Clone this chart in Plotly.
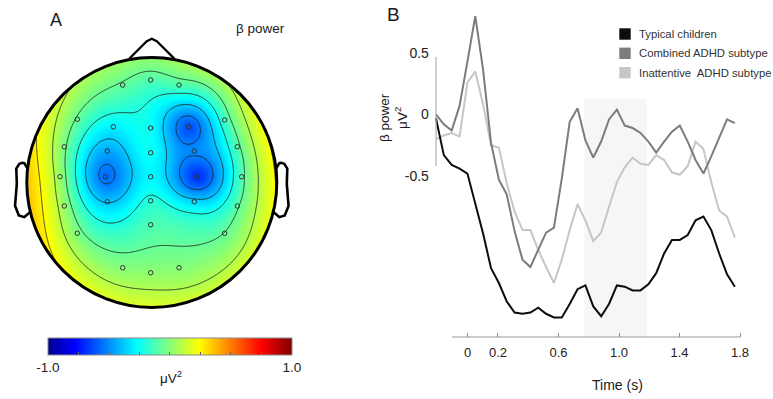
import numpy as np
import plotly.graph_objects as go

# ---------------- Panel B : beta power time courses ----------------
time_s = [-0.21, -0.158, -0.106, -0.054, -0.002, 0.05, 0.102, 0.154, 0.206, 0.258,
          0.31, 0.362, 0.414, 0.466, 0.518, 0.57, 0.622, 0.674, 0.726, 0.778,
          0.83, 0.882, 0.934, 0.986, 1.038, 1.09, 1.142, 1.194, 1.246, 1.298,
          1.35, 1.402, 1.454, 1.506, 1.558, 1.61, 1.662, 1.714, 1.766]

typical = [-0.03, -0.33, -0.41, -0.44, -0.48, -0.72, -0.97, -1.25, -1.37, -1.52,
           -1.61, -1.62, -1.61, -1.57, -1.62, -1.65, -1.65, -1.54, -1.42, -1.39,
           -1.56, -1.64, -1.54, -1.39, -1.40, -1.43, -1.43, -1.38, -1.29, -1.13,
           -1.02, -1.02, -0.98, -0.86, -0.83, -0.94, -1.13, -1.30, -1.40]

combined = [0.00, -0.08, -0.13, 0.07, 0.43, 0.80, 0.36, -0.23, -0.53, -0.65,
            -0.95, -1.18, -1.24, -1.10, -0.96, -0.92, -0.52, -0.06, 0.05, -0.21,
            -0.35, -0.22, -0.04, 0.04, -0.09, -0.11, -0.15, -0.22, -0.31, -0.22,
            -0.14, -0.09, -0.22, -0.37, -0.48, -0.34, -0.19, -0.04, -0.07]

inattentive = [-0.20, -0.17, -0.15, -0.18, 0.26, 0.35, 0.08, -0.25, -0.27, -0.56,
               -0.79, -0.94, -0.94, -1.10, -1.24, -1.37, -1.18, -0.94, -0.73, -0.86,
               -1.03, -0.96, -0.75, -0.55, -0.43, -0.35, -0.40, -0.41, -0.33, -0.37,
               -0.47, -0.49, -0.42, -0.22, -0.28, -0.55, -0.78, -0.83, -1.00]

series_names = ["Typical children", "Combined ADHD subtype", "Inattentive\u00a0 ADHD subtype"]
x_tick_vals = [0, 0.2, 0.6, 1.0, 1.4, 1.8]
x_tick_text = ["0", "0.2", "0.6", "1.0", "1.4", "1.8"]
y_tick_vals = [0.5, 0, -0.5]
y_tick_text = ["0.5", "0", "-0.5"]
window_s = [0.771, 1.183]

# ---------------- Panel A : scalp map (electrode positions / values) ----------------
elec_x = [-0.233, -0.009, 0.218,
          -0.596, -0.308, -0.009, 0.295, 0.583,
          -0.700, -0.356, -0.009, 0.340, 0.684,
          -0.734, -0.372, -0.009, 0.359, 0.719,
          -0.700, -0.356, -0.009, 0.340, 0.684,
          -0.596, -0.009, 0.583,
          -0.233, -0.009, 0.218]
elec_y = [0.780, 0.820, 0.780,
          0.506, 0.446, 0.436, 0.446, 0.500,
          0.286, 0.252, 0.238, 0.252, 0.286,
          0.046, 0.046, 0.046, 0.046, 0.046,
          -0.188, -0.154, -0.146, -0.154, -0.188,
          -0.406, -0.338, -0.406,
          -0.682, -0.722, -0.682]
elec_val = [-0.08, -0.12, -0.12,
            -0.08, -0.30, -0.26, -0.62, -0.14,
            -0.04, -0.45, -0.25, -0.50, -0.10,
            0.02, -0.56, -0.28, -0.68, -0.10,
            0.02, -0.38, -0.19, -0.33, -0.08,
            -0.02, -0.12, -0.06,
            0.00, 0.02, 0.00]

cbar_vals = [-1, -0.75, -0.5, -0.25, 0, 0.25, 0.5, 0.75, 1]
cbar_text = ["-1.0", "", "", "", "", "", "", "", "1.0"]
contour_levels = dict(start=-0.526, end=0.25, size=0.154)

FONT = "Liberation Sans, Arial, Helvetica, sans-serif"
W, H = 773, 399


def px2x(p):
    return p / W


def py2y(p):
    return 1 - p / H


# biharmonic spline (MATLAB griddata 'v4', as used by topoplot)
ex = np.array(elec_x)
ey = np.array(elec_y)
ev = np.array(elec_val)


def green(d):
    with np.errstate(divide="ignore", invalid="ignore"):
        g = d ** 2 * (np.log(d) - 1.0)
    g[d == 0] = 0.0
    return g


D = np.hypot(ex[:, None] - ex[None, :], ey[:, None] - ey[None, :])
wts = np.linalg.solve(green(D), ev)
grid = np.linspace(-1.0, 1.0, 251)
GX, GY = np.meshgrid(grid, grid)
Dg = np.hypot(GX[..., None] - ex, GY[..., None] - ey)
Z = green(Dg) @ wts
Zmask = np.where(np.hypot(GX, GY) <= 1.0, Z, np.nan)

jet = [[0.0, "#00008F"], [0.11, "#0000FF"], [0.365, "#00FFFF"],
       [0.619, "#FFFF00"], [0.873, "#FF0000"], [1.0, "#800000"]]

fig = go.Figure()

fig.add_trace(go.Heatmap(
    x=grid, y=grid, z=Zmask, colorscale=jet, zmin=-1, zmax=1, zsmooth="best",
    xaxis="x2", yaxis="y2", hoverinfo="skip",
    colorbar=dict(orientation="h", x=px2x(169.9), xanchor="center",
                  y=py2y(337.7), yanchor="top", len=244.3, lenmode="pixels",
                  thickness=17.3, thicknessmode="pixels", xpad=0, ypad=0,
                  outlinewidth=1, outlinecolor="#8a8a8a",
                  tickvals=cbar_vals, ticktext=cbar_text, ticks="inside",
                  ticklen=3, tickcolor="#666", tickwidth=1,
                  tickfont=dict(family=FONT, size=13.5, color="#222")),
))
fig.add_trace(go.Contour(
    x=grid, y=grid, z=Z, xaxis="x2", yaxis="y2", showscale=False,
    contours=dict(coloring="none", **contour_levels),
    line=dict(color="#1a1a1a", width=0.8), hoverinfo="skip",
))
fig.add_trace(go.Scatter(
    x=elec_x, y=elec_y, mode="markers", xaxis="x2", yaxis="y2",
    marker=dict(symbol="circle-open", size=4.5, color="#333", line=dict(width=1)),
    hoverinfo="skip",
))

# panel B lines
for vals, col in [(inattentive, "#c6c6c6"), (combined, "#7c7c7c"), (typical, "#0d0d0d")]:
    fig.add_trace(go.Scatter(x=time_s, y=vals, mode="lines",
                             line=dict(color=col, width=2), xaxis="x", yaxis="y"))

# ---------------- shapes ----------------
shapes = []
shapes.append(dict(type="rect", xref="x", yref="y domain", x0=window_s[0], x1=window_s[1],
                   y0=0, y1=(0.126 + 1.8089) / (0.9146 + 1.8089),
                   fillcolor="#f6f6f6", line=dict(width=0), layer="below"))
shapes.append(dict(type="line", xref="x", yref="y domain", x0=-0.105, x1=1.8, y0=0, y1=0,
                   line=dict(color="#9a9a9a", width=1.2)))
shapes.append(dict(type="line", xref="x", yref="y", x0=-0.2095, x1=-0.2095, y0=-0.419, y1=0.4675,
                   line=dict(color="#b0b0b0", width=1.2)))

th = np.linspace(0, 2 * np.pi, 241)
circ = " ".join(("M" if i == 0 else "L") + f"{np.cos(t):.4f},{np.sin(t):.4f}" for i, t in enumerate(th)) + " Z"
mask = "M-1.06,-1.06 L1.06,-1.06 L1.06,1.06 L-1.06,1.06 Z " + circ
shapes.append(dict(type="path", xref="x2", yref="y2", path=mask, fillcolor="white",
                   fillrule="evenodd", line=dict(width=0), layer="above"))
shapes.append(dict(type="circle", xref="x2", yref="y2", x0=-1, x1=1, y0=-1, y1=1,
                   line=dict(color="black", width=3), layer="above"))
nose_x = [0.18, 0.04, 0.0, -0.04, -0.18]
nose_y = [0.991, 1.13, 1.15, 1.13, 0.991]
shapes.append(dict(type="path", xref="x2", yref="y2", layer="above",
                   path="M" + " L".join(f"{a},{b}" for a, b in zip(nose_x, nose_y)),
                   line=dict(color="black", width=2.2)))
ear_x = [0.994, 1.02, 1.036, 1.06, 1.084, 1.08, 1.094, 1.064, 1.02, 0.978]
ear_y = [0.111, 0.155, 0.157, 0.149, 0.111, -0.011, -0.186, -0.263, -0.277, -0.240]
for sgn in (-1, 1):
    shapes.append(dict(type="path", xref="x2", yref="y2", layer="above",
                       path="M" + " L".join(f"{sgn*a},{b}" for a, b in zip(ear_x, ear_y)),
                       line=dict(color="black", width=2.6)))

leg_cols = ["#0d0d0d", "#7c7c7c", "#c6c6c6"]
leg_rows = [34.0, 53.3, 72.7]
for c, r in zip(leg_cols, leg_rows):
    shapes.append(dict(type="rect", xref="paper", yref="paper",
                       x0=px2x(619.3), x1=px2x(630.7), y0=py2y(r + 5.7), y1=py2y(r - 5.7),
                       fillcolor=c, line=dict(width=0)))

# ---------------- annotations ----------------
ann = []


def txt(text, x, y, size, xanchor="center", angle=0, color="#1a1a1a"):
    ann.append(dict(text=text, x=px2x(x), y=py2y(y), xref="paper", yref="paper",
                    showarrow=False, xanchor=xanchor, yanchor="middle", textangle=angle,
                    font=dict(family=FONT, size=size, color=color)))


txt("A", 56.3, 19.5, 18)
txt("B", 393.7, 14.5, 19)
txt("\u03b2 power", 260.5, 29, 13.5)
txt("\u03bcV<sup>2</sup>", 171, 377, 13.5)
txt("Time (s)", 617, 385, 14)
txt("\u03b2 power<br>\u03bcV<sup>2</sup>", 393, 118, 13.5, angle=-90)
for name, r in zip(series_names, leg_rows):
    txt(name, 637.3, r, 11.3, xanchor="left", color="#333")

fig.update_layout(
    width=W, height=H, margin=dict(l=0, r=0, t=0, b=0),
    paper_bgcolor="white", plot_bgcolor="rgba(0,0,0,0)", showlegend=False,
    shapes=shapes, annotations=ann,
    xaxis=dict(domain=[429.9 / W, 747.6 / W], range=[-0.25, 1.85], anchor="y",
               showgrid=False, zeroline=False, showline=False,
               tickvals=x_tick_vals, ticktext=x_tick_text, ticks="inside", ticklen=4,
               tickcolor="#8a8a8a", tickwidth=1, ticklabelstandoff=6,
               tickfont=dict(family=FONT, size=13, color="#222")),
    yaxis=dict(domain=[0.15539, 0.99499], range=[-1.8089, 0.9146], anchor="x",
               showgrid=False, zeroline=False, showline=False,
               tickvals=y_tick_vals, ticktext=y_tick_text, ticks="",
               tickfont=dict(family=FONT, size=14, color="#222")),
    xaxis2=dict(domain=[1.8 / W, 301.8 / W], range=[-1.2, 1.2], anchor="y2", visible=False),
    yaxis2=dict(domain=[(H - 332.5) / H, (H - 32.5) / H], range=[-1.2, 1.2], anchor="x2",
                visible=False),
)

fig.write_html("out.html", config={"displayModeBar": False},
               post_script="document.body.style.margin='0px';")
